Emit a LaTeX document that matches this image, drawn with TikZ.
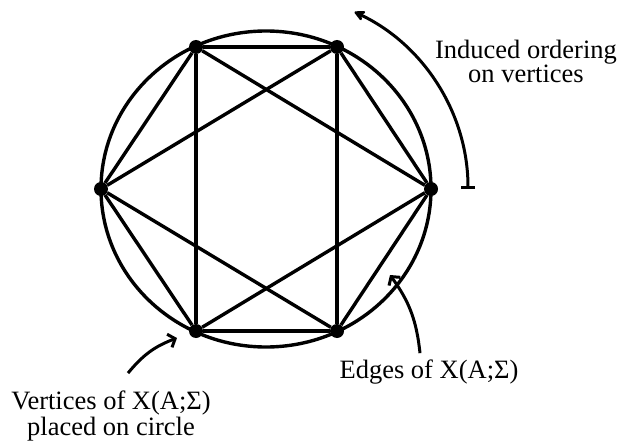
\documentclass[tikz,border=0pt]{standalone}
\usepackage{fontspec}
\setmainfont{Liberation Serif}
\usetikzlibrary{arrows.meta, positioning}
\tikzset{
    vertexdot/.style={circle, fill=black, inner sep=0pt, minimum size=14pt},
    graphedge/.style={line width=3.4pt},
    notetext/.style={align=center, font=\fontsize{26.5}{21}\selectfont, anchor=base, inner sep=0pt},
    pointerarrow/.style={line width=3pt, -{Straight Barb[length=6pt,width=14pt]}}
}

\begin{document}
\begin{tikzpicture}[x=1pt,y=1pt]
    \useasboundingbox (0,0) rectangle (621,440);

    % circle and vertices
    \draw[graphedge] (266,251) ellipse [x radius=165, y radius=158];
    \node[vertexdot] (v1) at (196,393) {};
    \node[vertexdot] (v2) at (337,393) {};
    \node[vertexdot] (v3) at (431,251) {};
    \node[vertexdot] (v4) at (337,109) {};
    \node[vertexdot] (v5) at (196,109) {};
    \node[vertexdot] (v6) at (101,251) {};

    % edges
    \foreach \a/\b in {v1/v2, v2/v3, v3/v4, v4/v5, v5/v6, v6/v1,
                       v1/v3, v3/v5, v5/v1, v2/v4, v4/v6, v6/v2}
        \draw[graphedge] (\a) -- (\b);

    % ordering
    \node[notetext] (ordering) at (526,357) {Induced ordering\\on vertices};
    \coordinate (ordstart) at (468,251);
    \draw[line width=3pt, {Bar[width=14pt]}-{Stealth[length=13pt,width=13pt,inset=4pt,round]}]
        (ordstart) arc[start angle=0, end angle=64, x radius=202, y radius=197];

    % labels
    \node[notetext] (vertlabel) at (111,5) {Vertices of X(A;Σ)\\placed on circle};
    \coordinate (verttip) at (177,102);
    \draw[pointerarrow] ([xshift=17pt,yshift=18pt]vertlabel.north) to[bend left=15] (verttip);

    \node[notetext] (edgelabel) at (429,62) {Edges of X(A;Σ)};
    \coordinate (edgetip) at (390,165);
    \draw[pointerarrow] ([xshift=-9pt,yshift=6pt]edgelabel.north) to[bend right=15] (edgetip);
\end{tikzpicture}
\end{document}
